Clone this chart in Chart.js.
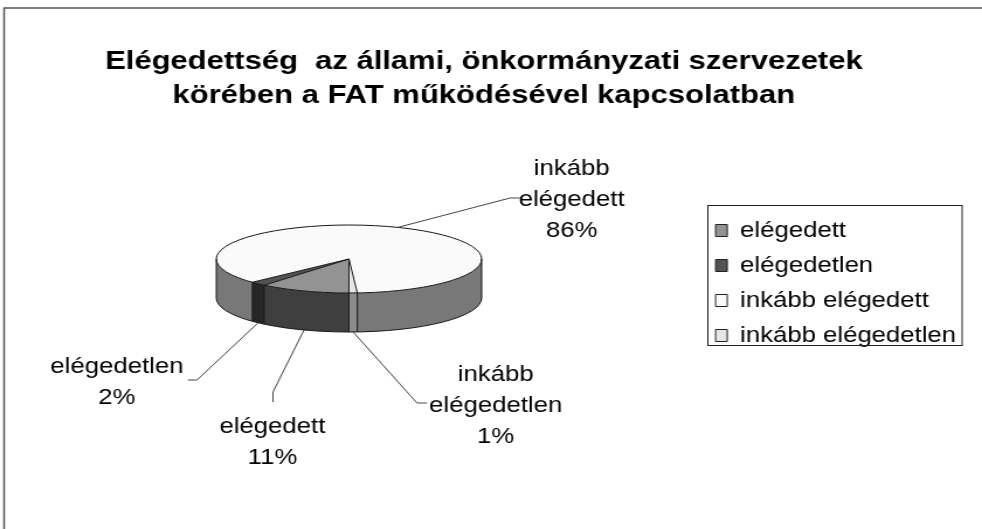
<!DOCTYPE html>
<html>
<head>
<meta charset="utf-8">
<script src="https://cdn.jsdelivr.net/npm/chart.js@4.4.1/dist/chart.umd.min.js"></script>
<style>
  html, body { margin: 0; padding: 0; background: #fff; overflow: hidden; }
  canvas { display: block; }
</style>
</head>
<body>
<!-- drawn at 840 wide, shown stretched to the page width -->
<canvas id="pie" width="840" height="529" style="width:982px;height:529px"></canvas>
<script>
const labels = ['elégedett', 'elégedetlen', 'inkább elégedett', 'inkább elégedetlen'];
const shares = [11, 2, 86, 1];
const titleLines = ['Elégedettség  az állami, önkormányzati szervezetek', 'körében a FAT működésével kapcsolatban'];

const topColors = ['#939393', '#525252', '#fafafa', '#e6e6e6'];
const sideColors = ['#3f3f3f', '#262626', '#787878', '#8c8c8c'];
const FONT = "'Liberation Sans', Arial, sans-serif";

// ellipse of the top face and height of the pie wall
const CX = 298.5, CY = 259, RX = 113.5, RY = 34, DEPTH = 39;

// where each callout text sits and how its leader bends
const callouts = [
  { x: 233, y: 442, bend: [233.5, 392], end: [233.5, 402], face: 'bottom' },
  { x: 100, y: 382, bend: [168.5, 380], end: [160.8, 380], face: 'bottom' },
  { x: 489, y: 200, bend: [436.3, 198], end: [444.8, 198], face: 'top' },
  { x: 424, y: 406, bend: [356.7, 403], end: [365.3, 403], face: 'bottom' }
];

function frontSpans(a0, a1) {
  const spans = [];
  for (let k = -1; k <= 2; k++) {
    const s = Math.max(a0, 2 * Math.PI * k);
    const e = Math.min(a1, 2 * Math.PI * k + Math.PI);
    if (e > s) spans.push([s, e]);
  }
  return spans;
}

const frame = {
  id: 'frame',
  beforeDraw(chart) {
    const ctx = chart.ctx;
    ctx.save();
    ctx.fillStyle = '#fff';
    ctx.fillRect(0, 0, chart.width, chart.height);
    ctx.strokeStyle = '#555';
    ctx.lineWidth = 1.5;
    ctx.beginPath();
    ctx.moveTo(3.5, chart.height + 2);
    ctx.lineTo(3.5, 8);
    ctx.lineTo(chart.width + 2, 8);
    ctx.stroke();
    ctx.restore();
  },
  afterDraw(chart) {
    // box around the legend
    const boxes = chart.legend.legendHitBoxes;
    if (!boxes.length) return;
    const first = boxes[0], last = boxes[boxes.length - 1];
    const right = Math.max(...boxes.map(b => b.left + b.width));
    const left = Math.round(first.left) - 6.5;
    const top = Math.round(first.top) - 14.5;
    const ctx = chart.ctx;
    ctx.save();
    ctx.strokeStyle = '#222';
    ctx.lineWidth = 1;
    ctx.strokeRect(left, top, Math.round(right) + 5 - left, Math.round(last.top + last.height) - 1.5 - top);
    ctx.restore();
  }
};

const pie3d = {
  id: 'pie3d',
  beforeDatasetsDraw(chart) {
    const ctx = chart.ctx;
    const arcs = chart.getDatasetMeta(0).data;
    // front wall, one strip per slice
    arcs.forEach((arc, i) => {
      frontSpans(arc.startAngle, arc.endAngle).forEach(([s, e]) => {
        ctx.beginPath();
        ctx.ellipse(CX, CY, RX, RY, 0, s, e, false);
        ctx.ellipse(CX, CY + DEPTH, RX, RY, 0, e, s, true);
        ctx.closePath();
        ctx.fillStyle = sideColors[i];
        ctx.fill();
      });
    });
    // flatten the circular pie onto the top ellipse
    const a = arcs[0];
    ctx.save();
    ctx.translate(CX, CY);
    ctx.scale(RX / a.outerRadius, RY / a.outerRadius);
    ctx.translate(-a.x, -a.y);
  },
  afterDatasetsDraw(chart) {
    const ctx = chart.ctx;
    ctx.restore();
    const arcs = chart.getDatasetMeta(0).data;
    ctx.save();
    ctx.strokeStyle = '#1a1a1a';
    ctx.lineWidth = 1;
    ctx.beginPath();
    ctx.ellipse(CX, CY, RX, RY, 0, 0, 2 * Math.PI);
    ctx.stroke();
    ctx.beginPath();
    ctx.ellipse(CX, CY + DEPTH, RX, RY, 0, 0, Math.PI);
    ctx.moveTo(CX + RX, CY);
    ctx.lineTo(CX + RX, CY + DEPTH);
    ctx.moveTo(CX - RX, CY);
    ctx.lineTo(CX - RX, CY + DEPTH);
    arcs.forEach(arc => {
      const t = arc.startAngle;
      const px = CX + RX * Math.cos(t), py = CY + RY * Math.sin(t);
      ctx.moveTo(CX, CY);
      ctx.lineTo(px, py);
      if (Math.sin(t) > 0) {
        ctx.moveTo(px, py);
        ctx.lineTo(px, py + DEPTH);
      }
    });
    ctx.stroke();

    // callouts with leader lines
    ctx.font = '22px ' + FONT;
    ctx.fillStyle = '#000';
    ctx.textAlign = 'center';
    ctx.textBaseline = 'middle';
    arcs.forEach((arc, i) => {
      const c = callouts[i];
      const mid = (arc.startAngle + arc.endAngle) / 2;
      const sx = CX + RX * Math.cos(mid);
      const sy = CY + RY * Math.sin(mid) + (c.face === 'bottom' ? DEPTH : 0);
      ctx.strokeStyle = '#444';
      ctx.beginPath();
      ctx.moveTo(sx, sy);
      ctx.lineTo(c.bend[0], c.bend[1]);
      ctx.lineTo(c.end[0], c.end[1]);
      ctx.stroke();
      const lines = labels[i].split(' ').concat(shares[i] + '%');
      const lh = 31;
      lines.forEach((ln, k) => {
        ctx.fillText(ln, c.x, c.y + (k - (lines.length - 1) / 2) * lh);
      });
    });
    ctx.restore();
  }
};

new Chart(document.getElementById('pie'), {
  type: 'pie',
  data: {
    labels: labels,
    datasets: [{
      data: shares,
      backgroundColor: topColors,
      borderWidth: 0,
      clip: false
    }]
  },
  options: {
    responsive: false,
    animation: false,
    devicePixelRatio: 1,
    rotation: 180,
    layout: { padding: { top: 37, right: 12.2, bottom: 0, left: 0 } },
    plugins: {
      tooltip: { enabled: false },
      title: {
        display: true,
        text: titleLines,
        color: '#000',
        font: { family: FONT, size: 26.5, weight: 'bold', lineHeight: '34px' },
        padding: { top: 8, bottom: 10 }
      },
      legend: {
        position: 'right',
        labels: {
          color: '#000',
          font: { family: FONT, size: 22 },
          boxWidth: 10,
          boxHeight: 12,
          padding: 13,
          generateLabels(chart) {
            return Chart.overrides.pie.plugins.legend.labels.generateLabels(chart).map(item => {
              item.strokeStyle = '#222';
              item.lineWidth = 1;
              return item;
            });
          }
        }
      }
    }
  },
  plugins: [frame, pie3d]
});
</script>
</body>
</html>
